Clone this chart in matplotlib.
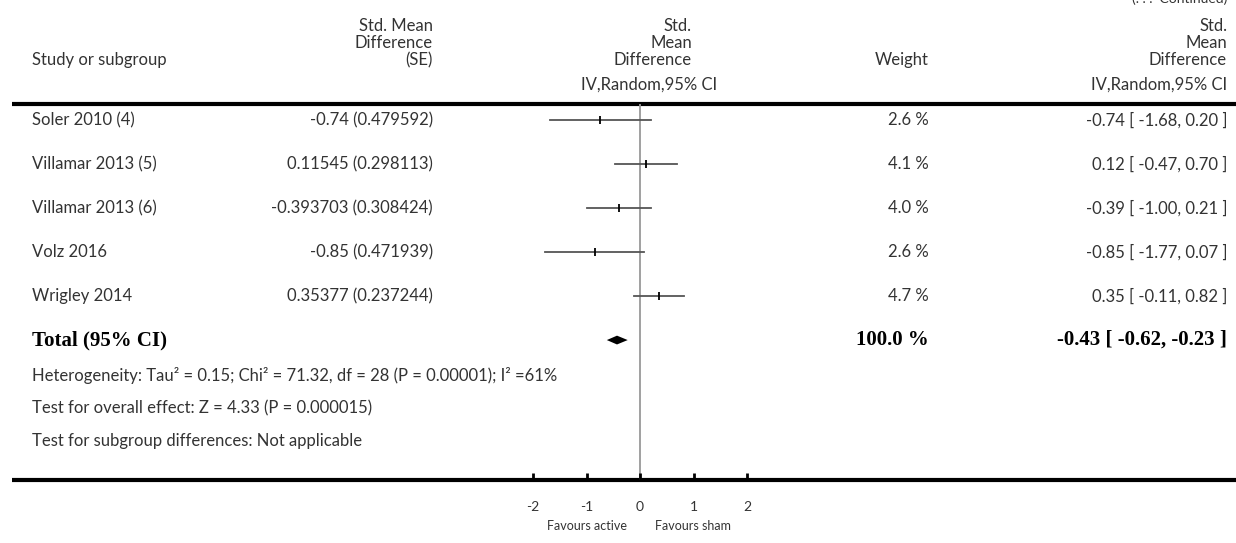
import matplotlib
matplotlib.use("Agg")
import matplotlib.pyplot as plt
from matplotlib.transforms import blended_transform_factory

# ---------------- data ----------------
studies = ["Soler 2010 (4)", "Villamar 2013 (5)", "Villamar 2013 (6)", "Volz 2016", "Wrigley 2014"]
se_labels = ["-0.74 (0.479592)", "0.11545 (0.298113)", "-0.393703 (0.308424)",
             "-0.85 (0.471939)", "0.35377 (0.237244)"]
est = [-0.74, 0.12, -0.39, -0.85, 0.35]
ci_low = [-1.68, -0.47, -1.00, -1.77, -0.11]
ci_high = [0.20, 0.70, 0.21, 0.07, 0.82]
weights = ["2.6 %", "4.1 %", "4.0 %", "2.6 %", "4.7 %"]
ci_labels = ["-0.74 [ -1.68, 0.20 ]", "0.12 [ -0.47, 0.70 ]", "-0.39 [ -1.00, 0.21 ]",
             "-0.85 [ -1.77, 0.07 ]", "0.35 [ -0.11, 0.82 ]"]
total_est, total_low, total_high = -0.43, -0.62, -0.23
total_weight = "100.0 %"
total_label = "-0.43 [ -0.62, -0.23 ]"
footer = ["Heterogeneity: Tau² = 0.15; Chi² = 71.32, df = 28 (P = 0.00001); I² =61%",
          "Test for overall effect: Z = 4.33 (P = 0.000015)",
          "Test for subgroup differences: Not applicable"]
xticks = [-2, -1, 0, 1, 2]
xtick_labels = ["-2", "-1", "0", "1", "2"]

SANS = "Lato"
SERIF = "Liberation Serif"
FS = 12

W, H = 1236, 543
fig = plt.figure(figsize=(W / 100, H / 100), dpi=100)

bg = fig.add_axes([0, 0, 1, 1])
bg.set_xlim(0, W)
bg.set_ylim(H, 0)
bg.axis("off")

# forest axes (pixel layout: x 426..854, y 104..480)
ax = fig.add_axes([426 / W, (H - 480) / H, 428 / W, 376 / H])
ax.set_xlim(-4, 4)
ax.set_ylim(8.18, -0.364)
ax.patch.set_alpha(0)
for s in ax.spines.values():
    s.set_visible(False)
ax.set_yticks([])
ax.set_xticks(xticks)
ax.set_xticklabels(xtick_labels, fontfamily=SANS, fontsize=10, color="#333333")
ax.tick_params(axis="x", direction="in", length=5, width=2, pad=15, color="black")

# zero line
ax.axvline(0, color="#999999", lw=1.3, zorder=1)

# study CIs
n = len(studies)
for i in range(n):
    ax.plot([ci_low[i], ci_high[i]], [i, i], color="#555555", lw=1.3, zorder=2)
    ax.plot([est[i]], [i], marker="|", color="black", ms=6, mew=1.3, zorder=3)

# total diamond
ty = n
h = 0.1
ax.fill([total_low, total_est, total_high, total_est], [ty, ty - h, ty, ty + h],
        color="black", zorder=3, lw=0)

# horizontal rules
bg.plot([12, W], [104, 104], color="black", lw=3, solid_capstyle="butt")
bg.plot([12, W], [480, 480], color="black", lw=3, solid_capstyle="butt")

# header
col = "#333333"
bg.text(1227, 5, "(. . .  Continued)", ha="right", va="bottom", fontfamily=SANS, fontsize=10, color=col)
bg.text(32, 60, "Study or subgroup", ha="left", va="center", fontfamily=SANS, fontsize=FS, color=col)
for txt, y in zip(["Std. Mean", "Difference", "(SE)"], [26, 43, 60]):
    bg.text(433, y, txt, ha="right", va="center", fontfamily=SANS, fontsize=FS, color=col)
for txt, y in zip(["Std.", "Mean", "Difference"], [26, 43, 60]):
    bg.text(692, y, txt, ha="right", va="center", fontfamily=SANS, fontsize=FS, color=col)
    bg.text(1227, y, txt, ha="right", va="center", fontfamily=SANS, fontsize=FS, color=col)
bg.text(649, 85, "IV,Random,95% CI", ha="center", va="center", fontfamily=SANS, fontsize=FS, color=col)
bg.text(1227, 85, "IV,Random,95% CI", ha="right", va="center", fontfamily=SANS, fontsize=FS, color=col)
bg.text(929, 60, "Weight", ha="right", va="center", fontfamily=SANS, fontsize=FS, color=col)

# rows
tr = blended_transform_factory(bg.transData, ax.transData)
for i in range(n):
    bg.text(32, i, studies[i], transform=tr, ha="left", va="center", fontfamily=SANS, fontsize=FS, color=col)
    bg.text(433, i, se_labels[i], transform=tr, ha="right", va="center", fontfamily=SANS, fontsize=FS, color=col)
    bg.text(929, i, weights[i], transform=tr, ha="right", va="center", fontfamily=SANS, fontsize=FS, color=col)
    bg.text(1227, i, ci_labels[i], transform=tr, ha="right", va="center", fontfamily=SANS, fontsize=FS, color=col)

bg.text(32, ty, "Total (95% CI)", transform=tr, ha="left", va="center", fontfamily=SERIF,
        fontweight="bold", fontsize=15, color="black")
bg.text(929, ty, total_weight, transform=tr, ha="right", va="center", fontfamily=SERIF,
        fontweight="bold", fontsize=15, color="black")
bg.text(1227, ty, total_label, transform=tr, ha="right", va="center", fontfamily=SERIF,
        fontweight="bold", fontsize=15, color="black")

for txt, y in zip(footer, [375, 408, 441]):
    bg.text(32, y, txt, ha="left", va="center", fontfamily=SANS, fontsize=FS, color=col)

# favours
bg.text(587, 526, "Favours active", ha="center", va="center", fontfamily=SANS, fontsize=9, color=col)
bg.text(693, 526, "Favours sham", ha="center", va="center", fontfamily=SANS, fontsize=9, color=col)

fig.savefig("out.png", dpi=100)
